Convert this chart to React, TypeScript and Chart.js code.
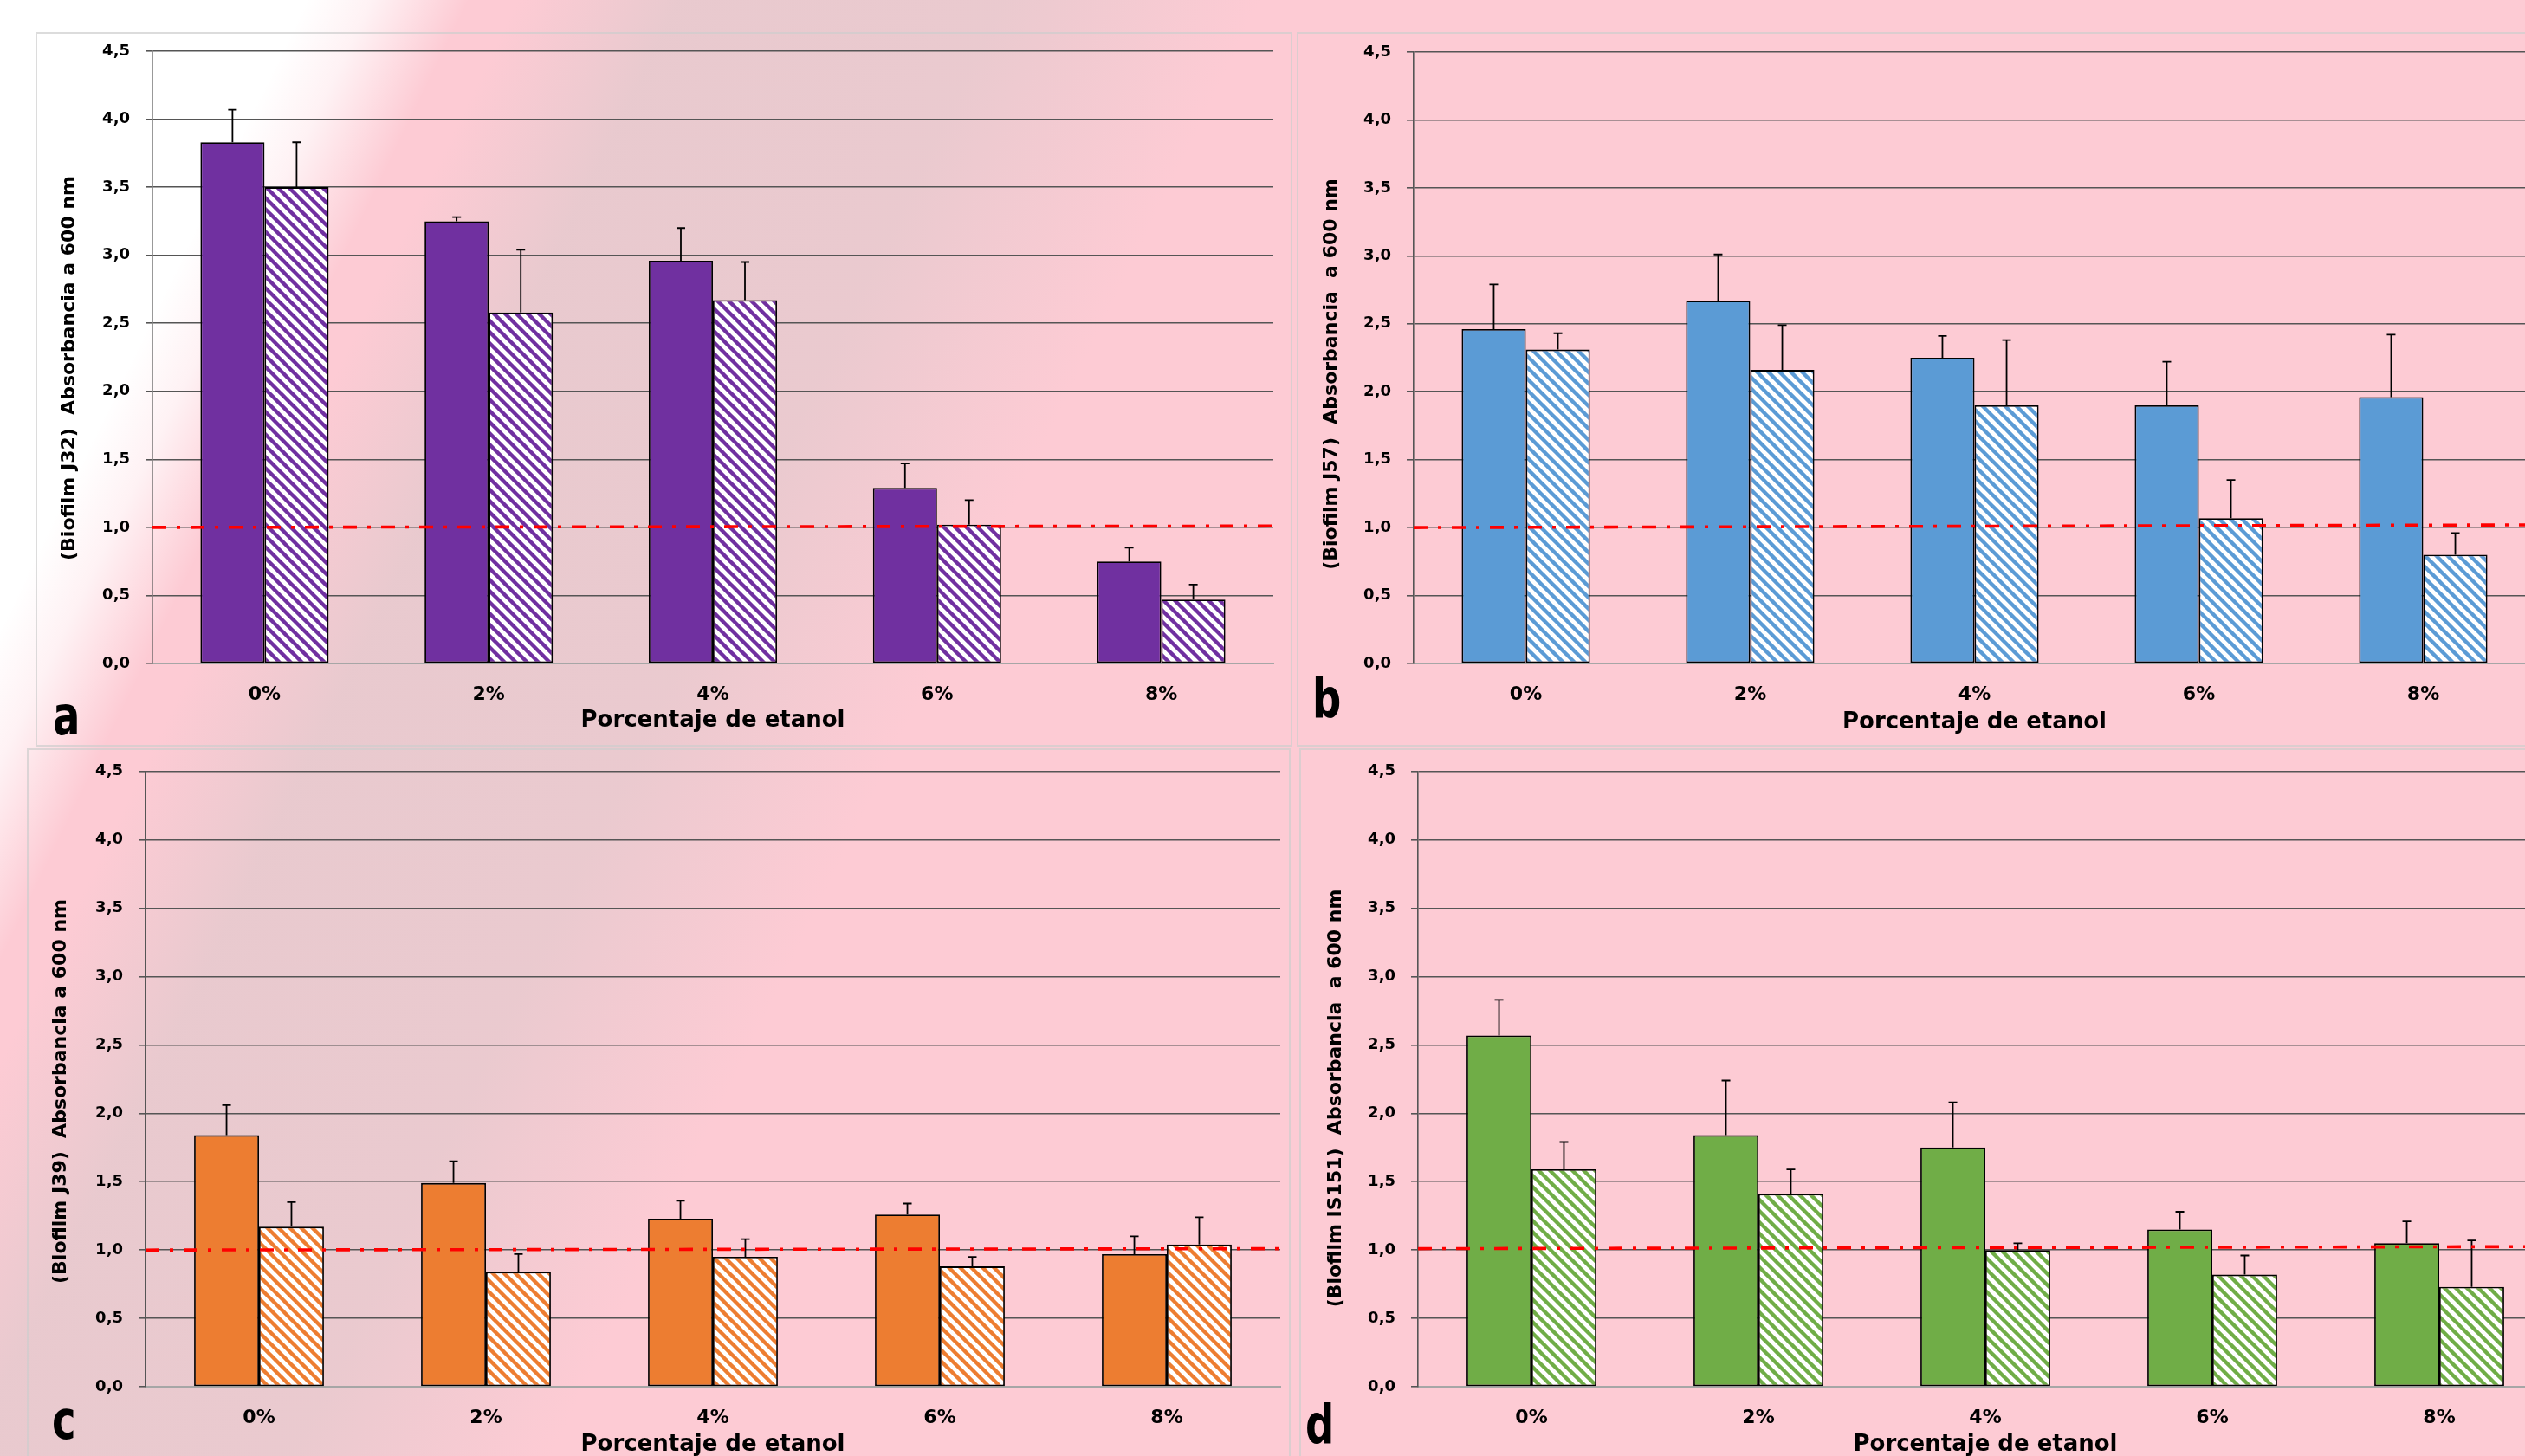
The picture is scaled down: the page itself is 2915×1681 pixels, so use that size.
import React, { useEffect, useRef } from 'react';
import { Chart, registerables } from 'chart.js';

Chart.register(...registerables);

const FONT = "'DejaVu Sans', 'Open Sans', sans-serif";
Chart.defaults.font.family = FONT;

// ---------------- data ----------------
const categories = ['0%', '2%', '4%', '6%', '8%'];
const yTickLabels = ['0,0', '0,5', '1,0', '1,5', '2,0', '2,5', '3,0', '3,5', '4,0', '4,5'];
const xAxisTitle = 'Porcentaje de etanol';

// Panel a – J32
const j32Control = [3.83, 3.25, 2.96, 1.29, 0.75];
const j32ControlErr = [0.24, 0.03, 0.24, 0.18, 0.1];
const j32Ethanol = [3.5, 2.58, 2.67, 1.02, 0.47];
const j32EthanolErr = [0.33, 0.46, 0.28, 0.18, 0.11];
const j32RefLine = [1.0, 1.01];

// Panel b – J57
const j57Control = [2.46, 2.67, 2.25, 1.9, 1.96];
const j57ControlErr = [0.33, 0.34, 0.16, 0.32, 0.46];
const j57Ethanol = [2.31, 2.16, 1.9, 1.07, 0.8];
const j57EthanolErr = [0.12, 0.33, 0.48, 0.28, 0.16];
const j57RefLine = [1.0, 1.02];

// Panel c – J39
const j39Control = [1.84, 1.49, 1.23, 1.26, 0.97];
const j39ControlErr = [0.22, 0.16, 0.13, 0.08, 0.13];
const j39Ethanol = [1.17, 0.84, 0.95, 0.88, 1.04];
const j39EthanolErr = [0.18, 0.13, 0.13, 0.07, 0.2];
const j39RefLine = [1.0, 1.01];

// Panel d – IS151
const is151Control = [2.57, 1.84, 1.75, 1.15, 1.05];
const is151ControlErr = [0.26, 0.4, 0.33, 0.13, 0.16];
const is151Ethanol = [1.59, 1.41, 1.0, 0.82, 0.73];
const is151EthanolErr = [0.2, 0.18, 0.05, 0.14, 0.34];
const is151RefLine = [1.01, 1.025];

// ---------------- panels ----------------
const panels = [
  {
    key: 'a', letter: 'a', yTitle: '(Biofilm J32)  Absorbancia a 600 nm', color: '#7030A0',
    control: j32Control, controlErr: j32ControlErr, ethanol: j32Ethanol, ethanolErr: j32EthanolErr, ref: j32RefLine,
    left: 0, top: 0, w: 1495, h: 862, yw: 176, padTop: 59, padRight: 25, xh: 96, xTitlePad: 14,
    yTitleX: 80, yTitleY: 425, letterX: 61, letterBase: 848,
  },
  {
    key: 'b', letter: 'b', yTitle: '(Biofilm J57)  Absorbancia  a 600 nm', color: '#5B9BD5',
    control: j57Control, controlErr: j57ControlErr, ethanol: j57Ethanol, ethanolErr: j57EthanolErr, ref: j57RefLine,
    left: 1495, top: 0, w: 1495, h: 862, yw: 137, padTop: 60, padRight: 63, xh: 96, xTitlePad: 12,
    yTitleX: 42, yTitleY: 432, letterX: 1515, letterBase: 828,
  },
  {
    key: 'c', letter: 'c', yTitle: '(Biofilm J39)  Absorbancia a 600 nm', color: '#ED7D31',
    control: j39Control, controlErr: j39ControlErr, ethanol: j39Ethanol, ethanolErr: j39EthanolErr, ref: j39RefLine,
    left: 0, top: 862, w: 1495, h: 830, yw: 168, padTop: 23, padRight: 17, xh: 91, xTitlePad: 8,
    yTitleX: 70, yTitleY: 398, letterX: 60, letterBase: 1661,
  },
  {
    key: 'd', letter: 'd', yTitle: '(Biofilm IS151)  Absorbancia  a 600 nm', color: '#70AD47',
    control: is151Control, controlErr: is151ControlErr, ethanol: is151Ethanol, ethanolErr: is151EthanolErr, ref: is151RefLine,
    left: 1495, top: 862, w: 1495, h: 830, yw: 142, padTop: 23, padRight: 43, xh: 91, xTitlePad: 8,
    yTitleX: 47, yTitleY: 406, letterX: 1507, letterBase: 1666,
  },
];

function makeHatch(color: string) {
  const p = 13;
  const c = document.createElement('canvas');
  c.width = p;
  c.height = p;
  const g = c.getContext('2d')!;
  g.fillStyle = '#ffffff';
  g.fillRect(0, 0, p, p);
  g.strokeStyle = color;
  g.lineWidth = 4.4;
  g.beginPath();
  for (let k = -1; k <= 1; k++) {
    g.moveTo(k * p - 3, -3);
    g.lineTo(k * p + p + 3, p + 3);
  }
  g.stroke();
  return g.createPattern(c, 'repeat');
}

const errorBarsPlugin = {
  id: 'errorBars',
  afterDatasetsDraw(chart: any, _args: any, opts: any) {
    const { ctx } = chart;
    const ys = chart.scales.y;
    chart.data.datasets.forEach((ds: any, i: number) => {
      const errs = opts.errors[i];
      const meta = chart.getDatasetMeta(i);
      meta.data.forEach((bar: any, j: number) => {
        const topY = ys.getPixelForValue(ds.data[j] + errs[j]);
        ctx.save();
        ctx.strokeStyle = '#000';
        ctx.lineWidth = 1.8;
        ctx.beginPath();
        ctx.moveTo(bar.x, bar.y);
        ctx.lineTo(bar.x, topY);
        ctx.moveTo(bar.x - 5, topY);
        ctx.lineTo(bar.x + 5, topY);
        ctx.stroke();
        ctx.restore();
      });
    });
  },
};

const refLinePlugin = {
  id: 'refLine',
  afterDatasetsDraw(chart: any, _args: any, opts: any) {
    const { ctx, chartArea } = chart;
    const ys = chart.scales.y;
    ctx.save();
    ctx.strokeStyle = '#FF0000';
    ctx.lineWidth = 3.6;
    ctx.setLineDash([16, 12, 4, 12]);
    ctx.beginPath();
    ctx.moveTo(chartArea.left, ys.getPixelForValue(opts.values[0]));
    ctx.lineTo(chartArea.right, ys.getPixelForValue(opts.values[1]));
    ctx.stroke();
    ctx.restore();
  },
};

const yTitlePlugin = {
  id: 'yTitle',
  afterDraw(chart: any, _args: any, opts: any) {
    const { ctx } = chart;
    ctx.save();
    ctx.translate(opts.x, opts.y);
    ctx.rotate(-Math.PI / 2);
    ctx.fillStyle = '#000';
    ctx.font = `bold 22px ${FONT}`;
    ctx.textAlign = 'center';
    ctx.textBaseline = 'middle';
    ctx.fillText(opts.text, 0, 0);
    ctx.restore();
  },
};

function Panel({ p }: { p: any }) {
  const ref = useRef<HTMLCanvasElement>(null);
  useEffect(() => {
    const canvas = ref.current!;
    const chart = new Chart(canvas, {
      type: 'bar',
      data: {
        labels: categories,
        datasets: [
          {
            label: 'Control',
            data: p.control,
            backgroundColor: p.color,
            borderColor: '#000',
            borderWidth: 1.8,
            borderSkipped: false,
            categoryPercentage: 0.572,
            barPercentage: 1.0,
          },
          {
            label: 'Etanol',
            data: p.ethanol,
            backgroundColor: makeHatch(p.color) as any,
            borderColor: '#000',
            borderWidth: 1.8,
            borderSkipped: false,
            categoryPercentage: 0.572,
            barPercentage: 1.0,
          },
        ],
      },
      options: {
        responsive: false,
        animation: false,
        layout: { padding: { left: 0, top: p.padTop, right: p.padRight, bottom: 0 } },
        plugins: {
          legend: { display: false },
          tooltip: { enabled: false },
          errorBars: { errors: [p.controlErr, p.ethanolErr] },
          refLine: { values: p.ref },
          yTitle: { text: p.yTitle, x: p.yTitleX, y: p.yTitleY },
        } as any,
        scales: {
          x: {
            grid: { display: false, drawTicks: false, tickLength: 0 },
            border: { display: true, color: '#a6a6a6', width: 2 },
            ticks: { color: '#000', font: { size: 22, weight: 'bold' }, padding: 23 },
            title: {
              display: true,
              text: xAxisTitle,
              color: '#000',
              font: { size: 26, weight: 'bold' },
              padding: { top: 0, bottom: p.xTitlePad },
            },
            afterFit: (s: any) => {
              s.height = p.xh;
            },
          },
          y: {
            min: 0,
            max: 4.5,
            ticks: {
              stepSize: 0.5,
              color: '#000',
              font: { size: 18, weight: 'bold' },
              padding: 18,
              callback: (v: any, i: number) => yTickLabels[i] ?? String(v),
            },
            grid: {
              color: (ctx: any) => (ctx.tick && ctx.tick.value === 0 ? 'rgba(0,0,0,0)' : '#555555'),
              lineWidth: 1.6,
              tickLength: 8,
              tickColor: '#555555',
            },
            border: { display: true, color: '#555555', width: 1.6 },
            afterFit: (s: any) => {
              s.width = p.yw;
            },
          },
        },
      } as any,
      plugins: [errorBarsPlugin, refLinePlugin, yTitlePlugin],
    });
    return () => chart.destroy();
  }, [p]);
  return (
    <canvas
      ref={ref}
      width={p.w}
      height={p.h}
      style={{ position: 'absolute', left: p.left, top: p.top, width: p.w, height: p.h }}
    />
  );
}

const frames = [
  { left: 41, top: 37, width: 1451, height: 825 },
  { left: 1497, top: 37, width: 1500, height: 825 },
  { left: 31, top: 864, width: 1459, height: 900 },
  { left: 1500, top: 864, width: 1500, height: 900 },
];

export default function App() {
  return (
    <div
      style={{
        position: 'fixed',
        left: 0,
        top: 0,
        width: 2915,
        height: 1681,
        overflow: 'hidden',
        background:
          'linear-gradient(116deg, #ffffff 0%, #ffffff 9.5%, rgba(255,255,255,0.75) 11.5%, rgba(255,255,255,0) 14.5%),' +
          'linear-gradient(116deg, rgba(0,0,0,0) 16%, rgba(208,200,200,0.45) 21%, rgba(208,200,200,0.42) 31%, rgba(0,0,0,0) 39%),' +
          '#fdcbd4',
      }}
    >
      {frames.map((f, i) => (
        <div
          key={i}
          style={{
            position: 'absolute',
            left: f.left,
            top: f.top,
            width: f.width,
            height: f.height,
            border: '2px solid rgba(205,205,205,0.7)',
            boxSizing: 'border-box',
          }}
        />
      ))}
      {panels.map((p) => (
        <Panel key={p.key} p={p} />
      ))}
      {panels.map((p) => (
        <div
          key={'l' + p.key}
          style={{
            position: 'absolute',
            left: p.letterX,
            top: p.letterBase - 52.5,
            fontFamily: FONT,
            fontWeight: 'bold',
            fontSize: 62,
            lineHeight: '62px',
            color: '#000',
            transform: 'scaleX(0.75)',
            transformOrigin: 'left top',
            whiteSpace: 'nowrap',
          }}
        >
          {p.letter}
        </div>
      ))}
    </div>
  );
}
